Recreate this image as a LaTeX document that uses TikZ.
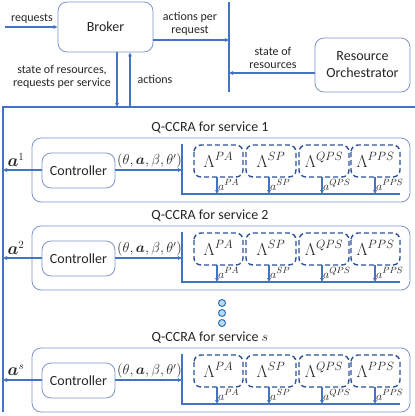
\documentclass[tikz,border=0pt]{standalone}
\usepackage{amsmath}
\usepackage{bm}
\usepackage{fontspec}
\setmainfont{Carlito}
\usetikzlibrary{arrows.meta}
\definecolor{lineblue}{HTML}{4472C4}
\definecolor{boxblue}{HTML}{7F96C8}
\definecolor{dashblue}{HTML}{2F5597}
\definecolor{dotfill}{HTML}{BDD7EE}
\definecolor{dotline}{HTML}{2E75B6}
\definecolor{txt}{HTML}{262626}
\tikzset{
  conn/.style={draw=lineblue, line width=1.1pt},
  arr/.style={conn, -{Triangle[length=4pt,width=3.5pt]}},
  rbox/.style={draw=boxblue, line width=0.8pt, rounded corners=9pt, fill=none},
  dbox/.style={draw=dashblue, line width=1.4pt, dash pattern=on 5pt off 3pt, rounded corners=7pt},
  bigtxt/.style={text=txt, font=\fontsize{14}{16}\selectfont, inner sep=0pt},
  smtxt/.style={text=txt, font=\fontsize{12}{13.5}\selectfont, inner sep=0pt, align=center},
  dotc/.style={draw=dotline, fill=dotfill, line width=1pt},
}
\newcommand{\qservice}[4]{%
  % #1 = top y, #2 = suffix, #3 = title index, #4 = math index
  \draw[rbox] (32,#1) rectangle (410,#1+64);
  \node[bigtxt] (title#2) at (210,#1-10) {Q-CCRA for service #3};
  \node[rbox, minimum width=73pt, minimum height=35pt, inner sep=0pt, bigtxt, draw=boxblue] (ctrl#2) at (78.5,#1+32.5) {Controller};
  \coordinate (aout#2) at (3,#1+32);
  \draw[arr] (ctrl#2.west |- aout#2) -- (aout#2);
  \node[text=txt, font=\fontsize{16}{17}\selectfont, inner sep=0pt] (alab#2) at (16,#1+22) {$\bm{a}^{#4}$};
  \coordinate (vtop#2) at (182,#1+6);
  \coordinate (vbot#2) at (182,#1+56);
  \coordinate (hend#2) at (400,#1+56);
  \coordinate (tin#2) at (182,#1+32);
  \draw[arr] (ctrl#2.east |- tin#2) -- (tin#2);
  \node[text=txt, font=\fontsize{13.5}{15}\selectfont, inner sep=0pt] (tlab#2) at (149.5,#1+23) {$(\theta,\bm{a},\beta,\theta')$};
  \draw[conn] (vtop#2) -- (vbot#2) -- (hend#2);
  \foreach \xa/\xb/\xarr/\nm/\sup in {194/243/217/pa/PA, 246/296/269/sp/SP, 299/349/322/qps/QPS, 351/400/375/pps/PPS}{
    \draw[dbox] (\xa,#1+7) rectangle (\xb,#1+39);
    \node[text=txt, font=\fontsize{17}{18}\selectfont, inner sep=0pt] (L\nm#2) at ({(\xa+\xb)/2},#1+22) {$\Lambda^{\sup}$};
    \coordinate (s\nm#2) at (\xarr,#1+39);
    \coordinate (e\nm#2) at (\xarr,#1+56);
    \draw[arr] (s\nm#2) -- (e\nm#2);
    \node[text=txt, font=\fontsize{13}{14}\selectfont, inner sep=0pt, anchor=west] (a\nm#2) at (\xarr+1,#1+47) {$a^{\sup}$};
  }
}
\begin{document}
\begin{tikzpicture}[x=1pt,y=-1pt]
\useasboundingbox[fill=white] (0,0) rectangle (415,416);
% Broker and Orchestrator
\node[rbox, minimum width=95pt, minimum height=50pt, inner sep=0pt, bigtxt] (broker) at (105.5,27) {Broker};
\node[rbox, minimum width=95pt, minimum height=54pt, inner sep=0pt, bigtxt, align=center] (ro) at (362.5,65) {Resource\\[1pt]Orchestrator};
% requests
\coordinate (reqin) at (5,27);
\draw[arr] (reqin) -- (broker.west);
\node[smtxt] (reqlab) at (32,19) {requests};
% vertical collector
\coordinate (vtop) at (229,2);
\coordinate (vbot) at (229,92);
\draw[conn] (vtop) -- (vbot);
\coordinate (apr) at (229,40);
\draw[arr] (broker.east |- apr) -- (apr);
\node[smtxt] (aprlab) at (190,24) {actions per\\request};
\coordinate (sor) at (229,73);
\draw[arr] (ro.west |- sor) -- (sor);
\node[smtxt] (sorlab) at (273,58) {state of\\resources};
% bus
\coordinate (busl) at (3,107);
\coordinate (busr) at (415,107);
\coordinate (busb) at (3,412);
\draw[conn] (busr) -- (busl) -- (busb);
\coordinate (dn) at (117,107);
\coordinate (up) at (130,107);
\draw[arr] (broker.south -| dn) -- (dn);
\draw[arr] (up) -- (broker.south -| up);
\node[smtxt] (srlab) at (62,77) {state of resources,\\requests per service};
\node[smtxt] (actlab) at (155,79) {actions};
% services
\qservice{138}{one}{1}{1}
\qservice{226}{two}{2}{2}
\qservice{348}{s}{$s$}{s}
% dots
\draw[dotc] (222,303) circle (3.5pt);
\draw[dotc] (222,313) circle (3.5pt);
\draw[dotc] (222,323) circle (3.5pt);
\end{tikzpicture}
\end{document}
